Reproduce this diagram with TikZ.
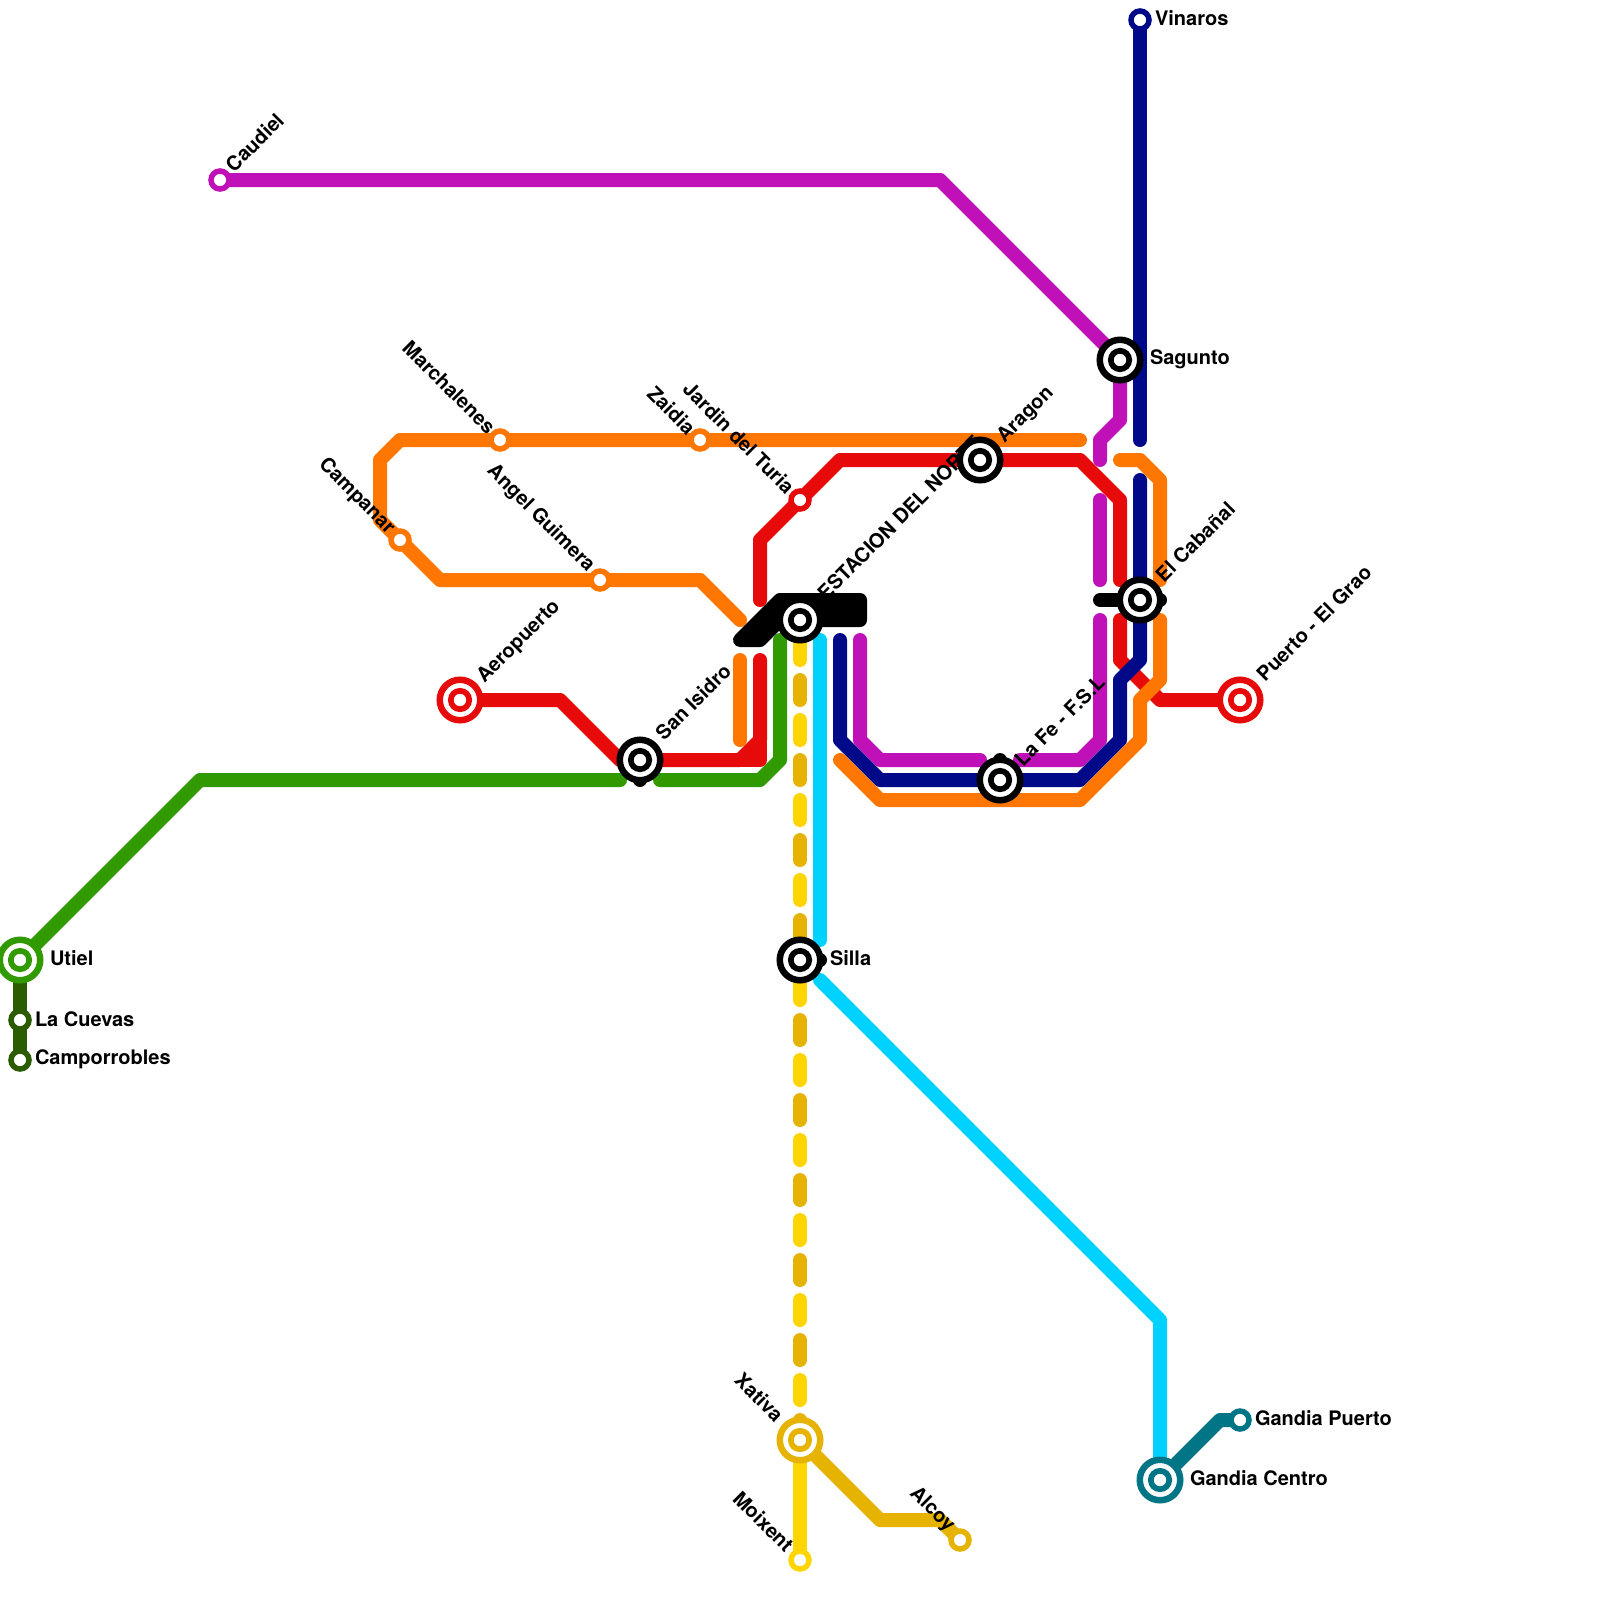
\documentclass[tikz,border=0pt]{standalone}
\usepackage{fontspec}
\setmainfont{TeX Gyre Heros}
\definecolor{cRed}{HTML}{E60A0A}
\definecolor{cOrange}{HTML}{FF7700}
\definecolor{cPurple}{HTML}{C010B8}
\definecolor{cNavy}{HTML}{000A88}
\definecolor{cCyan}{HTML}{00D2FF}
\definecolor{cYellow}{HTML}{FFD500}
\definecolor{cGold}{HTML}{E6B400}
\definecolor{cGreen}{HTML}{319A00}
\definecolor{cDark}{HTML}{2B5C00}
\definecolor{cTeal}{HTML}{007585}
\tikzset{
  metro/.style={line width=14pt,line cap=round,line join=round},
  lbl/.style={inner sep=0pt,outer sep=0pt,font=\fontsize{20}{24}\selectfont\bfseries,text=black},
  lblE/.style={lbl,anchor=west},
  lblUp/.style={lbl,anchor=west,rotate=45},
  lblDn/.style={lbl,anchor=east,rotate=-45},
  bigOuter/.style={circle,draw=#1,fill=white,line width=6.5pt,minimum size=40.5pt,inner sep=0pt},
  bigInner/.style={circle,draw=#1,fill=white,line width=5.7pt,minimum size=18.4pt,inner sep=0pt},
  smallSt/.style={circle,draw=#1,fill=white,line width=5.5pt,minimum size=18pt,inner sep=0pt},
}
\newcommand{\bigSt}[2]{\node[bigOuter=#2] (n#1) at (#1) {};\node[bigInner=#2] (i#1) at (#1) {};}
\newcommand{\smallStn}[2]{\node[smallSt=#2] (n#1) at (#1) {};}
\begin{document}
\begin{tikzpicture}[x=1pt,y=-1pt]
\useasboundingbox (0,0) rectangle (1600,1600);
\fill[white] (0,0) rectangle (1600,1600);
% station positions
\coordinate (caudiel) at (220,180);
\coordinate (vinaros) at (1140,20);
\coordinate (sagunto) at (1120,360);
\coordinate (marchalenes) at (500,440);
\coordinate (zaidia) at (700,440);
\coordinate (aragon) at (980,460);
\coordinate (jardin) at (800,500);
\coordinate (campanar) at (400,540);
\coordinate (guimera) at (600,580);
\coordinate (cabanal) at (1140,600);
\coordinate (norte) at (800,620);
\coordinate (aeropuerto) at (460,700);
\coordinate (puerto) at (1240,700);
\coordinate (isidro) at (640,760);
\coordinate (lafe) at (1000,780);
\coordinate (utiel) at (20,960);
\coordinate (silla) at (800,960);
\coordinate (cuevas) at (20,1020);
\coordinate (camporrobles) at (20,1060);
\coordinate (gpuerto) at (1240,1420);
\coordinate (xativa) at (800,1440);
\coordinate (gcentro) at (1160,1480);
\coordinate (alcoy) at (960,1540);
\coordinate (moixent) at (800,1560);
% lines
\draw[metro,cDark] (utiel) -- (camporrobles);
\draw[metro,cGreen] (utiel) -- (200,780) -- (620,780);
\draw[metro,cGreen] (660,780) -- (760,780) -- (780,760) -- (780,640);
\draw[metro,cOrange] (740,660) -- (740,740);
\draw[metro,cRed] (aeropuerto) -- (560,700) -- (620,760) -- (isidro) -- (740,760) -- (760,740) -- (760,660);
\draw[metro,cRed] (740,760) -- (760,760) -- (760,740);
\draw[metro,cRed] (760,600) -- (760,540) -- (jardin) -- (840,460) -- (aragon) -- (1080,460) -- (1120,500) -- (1120,580);
\draw[metro,cRed] (1120,620) -- (1120,660) -- (1160,700) -- (puerto);
\draw[metro,cPurple] (caudiel) -- (940,180) -- (sagunto) -- (1120,420) -- (1100,440) -- (1100,460);
\draw[metro,cPurple] (1100,500) -- (1100,580);
\draw[metro,cPurple] (1100,620) -- (1100,740) -- (1080,760) -- (1020,760);
\draw[metro,cPurple] (860,640) -- (860,740) -- (880,760) -- (980,760);
\draw[metro,cNavy] (vinaros) -- (1140,440);
\draw[metro,cNavy] (1140,480) -- (cabanal) -- (1140,660) -- (1120,680) -- (1120,740) -- (1080,780) -- (880,780) -- (840,740) -- (840,640);
\draw[metro,cOrange] (1080,440) -- (400,440) -- (380,460) -- (380,520) -- (440,580) -- (700,580) -- (740,620);
\draw[metro,cOrange] (1120,460) -- (1140,460) -- (1160,480) -- (1160,580);
\draw[metro,cOrange] (1160,620) -- (1160,680) -- (1140,700) -- (1140,740) -- (1080,800) -- (880,800) -- (840,760);
\draw[metro,cCyan] (820,640) -- (820,940);
\draw[metro,cCyan] (820,980) -- (1160,1320) -- (gcentro);
\draw[metro,cTeal] (gcentro) -- (1220,1420) -- (gpuerto);
\draw[metro,cYellow,dash pattern=on 20pt off 60pt] (800,640) -- (800,940);
\draw[metro,cGold,dash pattern=on 20pt off 60pt] (800,680) -- (800,960);
\draw[metro,cYellow,dash pattern=on 20pt off 60pt] (800,980) -- (800,1420);
\draw[metro,cGold,dash pattern=on 20pt off 60pt] (800,1020) -- (800,1380);
\draw[metro,cYellow] (xativa) -- (moixent);
\draw[metro,cGold] (800,1420) -- (xativa) -- (880,1520) -- (940,1520) -- (alcoy);
% labels
\node[lblUp] (lCaudiel) at ([shift={(9,-12)}]caudiel) {Caudiel};
\node[lblUp] (lAeropuerto) at ([shift={(21,-20)}]aeropuerto) {Aeropuerto};
\node[lblUp] (lIsidro) at ([shift={(19,-24)}]isidro) {San Isidro};
\node[lblUp] (lNorte) at ([shift={(21,-24)}]norte) {ESTACION DEL NORTE};
\node[lblUp] (lAragon) at ([shift={(21,-20)}]aragon) {Aragon};
\node[lblUp] (lCabanal) at ([shift={(19,-22)}]cabanal) {El Cabañal};
\node[lblUp] (lLafe) at ([shift={(18,-18)}]lafe) {La Fe - F.S.L};
\node[lblUp] (lPuerto) at ([shift={(20,-23)}]puerto) {Puerto - El Grao};
\node[lblDn] (lMarchalenes) at ([shift={(-8,-10)}]marchalenes) {Marchalenes};
\node[lblDn] (lZaidia) at ([shift={(-8,-9)}]zaidia) {Zaidia};
\node[lblDn] (lCampanar) at ([shift={(-9,-9)}]campanar) {Campanar};
\node[lblDn] (lJardin) at ([shift={(-9,-10)}]jardin) {Jardin del Turia};
\node[lblDn] (lGuimera) at ([shift={(-9,-11)}]guimera) {Angel Guimera};
\node[lblDn] (lXativa) at ([shift={(-20,-22)}]xativa) {Xativa};
\node[lblDn] (lMoixent) at ([shift={(-10,-12)}]moixent) {Moixent};
\node[lblDn] (lAlcoy) at ([shift={(-9,-11)}]alcoy) {Alcoy};
\node[lblE] (lVinaros) at (1155,18) {Vinaros};
\node[lblE] (lSagunto) at (1150,359) {Sagunto};
\node[lblE] (lUtiel) at (50,958) {Utiel};
\node[lblE] (lCuevas) at (35,1019) {La Cuevas};
\node[lblE] (lCamporrobles) at (35,1059) {Camporrobles};
\node[lblE] (lSilla) at (830,958) {Silla};
\node[lblE] (lGpuerto) at (1255,1418) {Gandia Puerto};
\node[lblE] (lGcentro) at (1190,1478) {Gandia Centro};
% interchange links
\draw[line width=14pt,line join=round,fill=black] (740,640) -- (780,600) -- (860,600) -- (860,620) -- (780,620) -- (760,640) -- cycle;
\draw[metro,black] (1100,600) -- (1160,600);
\draw[metro,black] (isidro) -- (640,780);
\draw[metro,black] (lafe) -- (1000,760);
\draw[metro,black] (silla) -- (820,960);
% stations
\bigSt{aeropuerto}{cRed}
\bigSt{puerto}{cRed}
\bigSt{isidro}{black}
\bigSt{norte}{black}
\bigSt{aragon}{black}
\bigSt{sagunto}{black}
\bigSt{cabanal}{black}
\bigSt{lafe}{black}
\bigSt{silla}{black}
\bigSt{utiel}{cGreen}
\bigSt{xativa}{cGold}
\bigSt{gcentro}{cTeal}
\smallStn{caudiel}{cPurple}
\smallStn{vinaros}{cNavy}
\smallStn{marchalenes}{cOrange}
\smallStn{zaidia}{cOrange}
\smallStn{campanar}{cOrange}
\smallStn{guimera}{cOrange}
\smallStn{jardin}{cRed}
\smallStn{cuevas}{cDark}
\smallStn{camporrobles}{cDark}
\smallStn{gpuerto}{cTeal}
\smallStn{alcoy}{cGold}
\smallStn{moixent}{cYellow}
\end{tikzpicture}
\end{document}
